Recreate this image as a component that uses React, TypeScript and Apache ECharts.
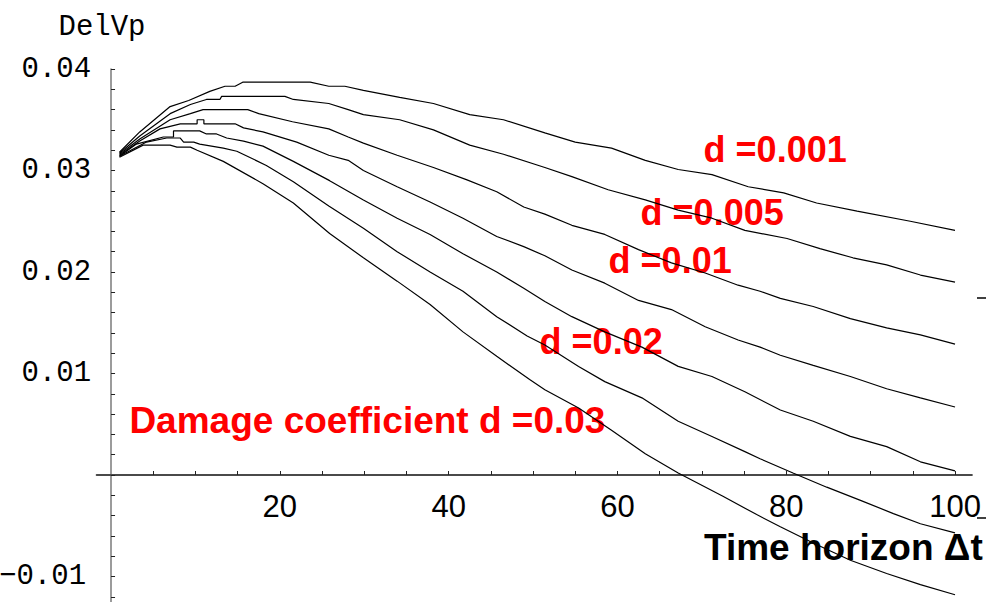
import React, { useEffect, useRef } from "react";
import * as echarts from "echarts";

// DelVp against time horizon for several damage coefficients d
const seriesNames = ["d =0.001", "d =0.005", "d =0.01", "d =0.015", "d =0.02", "d =0.025", "d =0.03"];

const dA: [number, number][] = [
  [1, 0.0318], [3.4, 0.0338], [7, 0.0363], [9.2, 0.0369], [11.7, 0.0378], [13.5, 0.0383], [14.7, 0.0383],
  [15.6, 0.0387], [23.6, 0.0387], [25.8, 0.0383], [27.7, 0.0383], [29.9, 0.0379], [34.2, 0.0372], [38.2, 0.0366],
  [42.5, 0.0355], [46.5, 0.035], [51.4, 0.0337], [55, 0.0328], [59.3, 0.0322], [63.3, 0.031], [67.2, 0.0301],
  [71.2, 0.0296], [75.5, 0.0284], [79.7, 0.0278], [83.6, 0.0268], [88.4, 0.026], [94.7, 0.025], [100, 0.0241],
];

const dB: [number, number][] = [
  [1, 0.0317], [3.4, 0.0334], [7, 0.0356], [9.4, 0.0365], [11.3, 0.037], [12.9, 0.037], [13.1, 0.0373],
  [20.6, 0.0373], [21.6, 0.037], [25.8, 0.0366], [28.1, 0.036], [29.9, 0.0355], [34.2, 0.035], [38.2, 0.034],
  [42.5, 0.0325], [46.5, 0.0316], [51.4, 0.0303], [54.6, 0.0294], [58.9, 0.0281], [63.3, 0.0271], [67.2, 0.0261],
  [71.2, 0.0253], [75.1, 0.0241], [80.1, 0.0233], [84, 0.0223], [87.9, 0.0214], [91.9, 0.0207], [95.9, 0.0197],
  [100, 0.019],
];

const dC: [number, number][] = [
  [1, 0.0316], [3.4, 0.0331], [7, 0.035], [9.4, 0.0356], [10.9, 0.036], [16.2, 0.036], [17.5, 0.0356],
  [21.5, 0.0348], [25.8, 0.0341], [28.1, 0.0333], [29.9, 0.0327], [33.9, 0.0315], [38.2, 0.0303], [42.1, 0.0291],
  [45.7, 0.0279], [48.9, 0.0264], [51.4, 0.0257], [54.6, 0.0246], [58.5, 0.0237], [62.5, 0.0222], [66.4, 0.0209],
  [70.4, 0.0199], [74.3, 0.0187], [76.9, 0.0181], [79.3, 0.0174], [83.2, 0.0166], [87.6, 0.0154], [91.9, 0.0145],
  [95.9, 0.0138], [100, 0.0129],
];

const dD: [number, number][] = [
  [1, 0.0315], [3.4, 0.0329], [5.8, 0.0341], [8.2, 0.0346], [10.2, 0.0346], [10.2, 0.035], [11, 0.035],
  [11, 0.0346], [14.7, 0.0346], [15.7, 0.0342], [18, 0.0338], [22, 0.0328], [25.8, 0.0315], [28.1, 0.031],
  [29.9, 0.03], [33.9, 0.0284], [37.8, 0.0269], [41.7, 0.0253], [45.7, 0.0235], [48.9, 0.0225], [51.4, 0.0216],
  [54.6, 0.0202], [58.5, 0.0189], [62.5, 0.0172], [66.4, 0.0163], [70.4, 0.0146], [74.3, 0.0133], [76.9, 0.0126],
  [79.3, 0.0118], [83.2, 0.0108], [87.6, 0.0097], [91.9, 0.0085], [95.9, 0.0076], [100, 0.0067],
];

const dE: [number, number][] = [
  [1, 0.0314], [3, 0.0326], [6.2, 0.0333], [7.4, 0.0333], [7.4, 0.0339], [10.5, 0.0339], [11.3, 0.0336],
  [12.5, 0.0336], [13.7, 0.0332], [15.7, 0.0329], [18, 0.0324], [21.6, 0.0309], [25.9, 0.029], [29.9, 0.0271],
  [33.9, 0.0253], [37.8, 0.0237], [41.7, 0.0218], [45.7, 0.02], [48.9, 0.0184], [51.4, 0.0171], [54.6, 0.0156],
  [58.5, 0.0141], [62.9, 0.0126], [67.2, 0.0107], [71.2, 0.0097], [75.1, 0.0082], [79.3, 0.0064], [83.2, 0.0053],
  [87.6, 0.0038], [91.9, 0.0028], [95.9, 0.0013], [100, 0.0004],
];

const dF: [number, number][] = [
  [1, 0.0314], [4.2, 0.0328], [6.6, 0.0332], [8.2, 0.0332], [8.6, 0.0328], [9.8, 0.0328], [10.5, 0.0326],
  [13.3, 0.0322], [14.9, 0.0319], [18.4, 0.0305], [21.6, 0.0289], [25.8, 0.0265], [29.9, 0.0243], [33.9, 0.022],
  [37.8, 0.02], [41.7, 0.0181], [45.7, 0.0156], [49.3, 0.0137], [51.4, 0.0128], [55.4, 0.0107], [58.5, 0.0092],
  [62.9, 0.0076], [67.2, 0.0053], [71.2, 0.0038], [75.1, 0.0023], [76.9, 0.0016], [80.8, 0.0002], [84.8, -0.0012],
  [88.8, -0.0025], [92.7, -0.0038], [95.9, -0.0048], [100, -0.0057],
];

const dG: [number, number][] = [
  [1, 0.0313], [3.8, 0.0325], [7, 0.0325], [7.8, 0.0323], [9.4, 0.0323], [10.2, 0.032], [13.3, 0.0309],
  [18, 0.0287], [21.6, 0.0268], [25.9, 0.0238], [29.9, 0.0214], [33.9, 0.0191], [37.8, 0.0168], [41.7, 0.0141],
  [45.7, 0.0117], [49.6, 0.0094], [51.4, 0.0084], [55.4, 0.0066], [59.3, 0.0044], [63.3, 0.0021], [67.2, 0.0002],
  [72.5, -0.0021], [76.5, -0.0039], [79.3, -0.0051], [83.2, -0.0067], [87.6, -0.0084], [91.9, -0.0097],
  [95.9, -0.0108], [100, -0.0118],
];

const curves = [dA, dB, dC, dD, dE, dF, dG];

// axis ticks and labels
const xTickValues = [5, 10, 15, 20, 25, 30, 35, 40, 45, 50, 55, 60, 65, 70, 75, 80, 85, 90, 95, 100];
const xLabelValues = [20, 40, 60, 80, 100];
const yTickValues = [
  -0.012, -0.01, -0.008, -0.006, -0.004, -0.002, 0, 0.002, 0.004, 0.006, 0.008, 0.01, 0.012, 0.014,
  0.016, 0.018, 0.02, 0.022, 0.024, 0.026, 0.028, 0.03, 0.032, 0.034, 0.036, 0.038, 0.04,
];
const yLabelValues = [-0.01, 0.01, 0.02, 0.03, 0.04];

// plot frame (px): the axes cross at the origin inside the plotting area
const X_MIN = -1.7;
const X_MAX = 102;
const Y_MIN = -0.0125;
const Y_MAX = 0.04;
const GRID = { left: 96.7, right: 14.1, top: 69, bottom: 0.125 };
const CHART_W = 986;
const CHART_H = 602;

// annotations
const curveNotes = [
  { text: "d =0.001", x: 703.6, y: 149.5, size: 36 },
  { text: "d =0.005", x: 640.6, y: 212.5, size: 36 },
  { text: "d =0.01", x: 608.6, y: 260.5, size: 36 },
  { text: "d =0.02", x: 539.6, y: 341.5, size: 36 },
  { text: "Damage coefficient d =0.03", x: 129.4, y: 420, size: 37 },
];

export default function App() {
  const ref = useRef<HTMLDivElement>(null);

  useEffect(() => {
    if (!ref.current) return;
    const chart = echarts.init(ref.current, null, { renderer: "svg" });

    const plotW = CHART_W - GRID.left - GRID.right;
    const plotH = CHART_H - GRID.top - GRID.bottom;
    // shift the axes from the grid edges onto x = 0 and y = 0
    const xAxisOffset = -((0 - Y_MIN) / (Y_MAX - Y_MIN)) * plotH;
    const yAxisOffset = -((0 - X_MIN) / (X_MAX - X_MIN)) * plotW;

    const font = (size: number) => `bold ${size}px "Liberation Sans", Arial, sans-serif`;

    chart.setOption({
      animation: false,
      backgroundColor: "#ffffff",
      grid: { ...GRID, containLabel: false, outerBoundsMode: "none" },
      xAxis: {
        type: "value",
        min: X_MIN,
        max: X_MAX,
        position: "bottom",
        offset: xAxisOffset,
        axisLine: { onZero: false, lineStyle: { color: "#4a4a4a", width: 2 } },
        axisTick: {
          inside: true,
          length: 4,
          customValues: xTickValues,
          lineStyle: { color: "#222", width: 1 },
        },
        axisLabel: {
          customValues: xLabelValues,
          margin: 16,
          color: "#000",
          fontFamily: '"Liberation Sans", Arial, sans-serif',
          fontSize: 31,
          formatter: (v: number) => String(Math.round(v)),
        },
        splitLine: { show: false },
      },
      yAxis: {
        type: "value",
        min: Y_MIN,
        max: Y_MAX,
        position: "left",
        offset: yAxisOffset,
        axisLine: { onZero: false, lineStyle: { color: "#7a7a7a", width: 1.5 } },
        axisTick: {
          inside: true,
          length: 4,
          customValues: yTickValues,
          lineStyle: { color: "#222", width: 1 },
        },
        axisLabel: {
          customValues: yLabelValues,
          margin: 20,
          color: "#000",
          fontFamily: '"Liberation Mono", "Courier New", monospace',
          fontSize: 29,
          formatter: (v: number) =>
            v < 0 ? "{neg|\u2212" + Math.abs(v).toFixed(2) + "}" : v.toFixed(2),
          rich: {
            neg: {
              fontFamily: '"Liberation Mono", "Courier New", monospace',
              fontSize: 29,
              color: "#000",
              padding: [0, 5, 0, 0],
            },
          },
        },
        splitLine: { show: false },
      },
      series: curves.map((data, i) => ({
        name: seriesNames[i],
        type: "line",
        data,
        symbol: "none",
        showSymbol: false,
        silent: true,
        z: 3,
        lineStyle: { color: "#000", width: 1.2 },
      })),
      graphic: [
        {
          type: "text",
          x: 58.5,
          y: 27,
          z: 0,
          style: {
            text: "DelVp",
            font: '29px "Liberation Mono", "Courier New", monospace',
            fill: "#000",
            verticalAlign: "middle",
            textVerticalAlign: "middle",
          },
        },
        ...curveNotes.map((n) => ({
          type: "text",
          x: n.x,
          y: n.y,
          z: 0,
          style: {
            text: n.text,
            font: font(n.size),
            fill: "#ff0000",
            verticalAlign: "middle",
            textVerticalAlign: "middle",
          },
        })),
        {
          type: "text",
          x: 704,
          y: 547.5,
          z: 0,
          style: {
            text: "Time horizon \u0394t",
            font: font(37),
            fill: "#000",
            verticalAlign: "middle",
            textVerticalAlign: "middle",
          },
        },
        {
          type: "line",
          z: 0,
          shape: { x1: 977, y1: 298, x2: 986, y2: 298 },
          style: { stroke: "#000", lineWidth: 1.5 },
        },
        {
          type: "line",
          z: 0,
          shape: { x1: 977, y1: 518, x2: 986, y2: 518 },
          style: { stroke: "#000", lineWidth: 1.5 },
        },
      ],
    });

    return () => chart.dispose();
  }, []);

  return (
    <div
      ref={ref}
      style={{ position: "fixed", left: 0, top: 0, width: CHART_W, height: CHART_H, background: "#fff" }}
    />
  );
}
